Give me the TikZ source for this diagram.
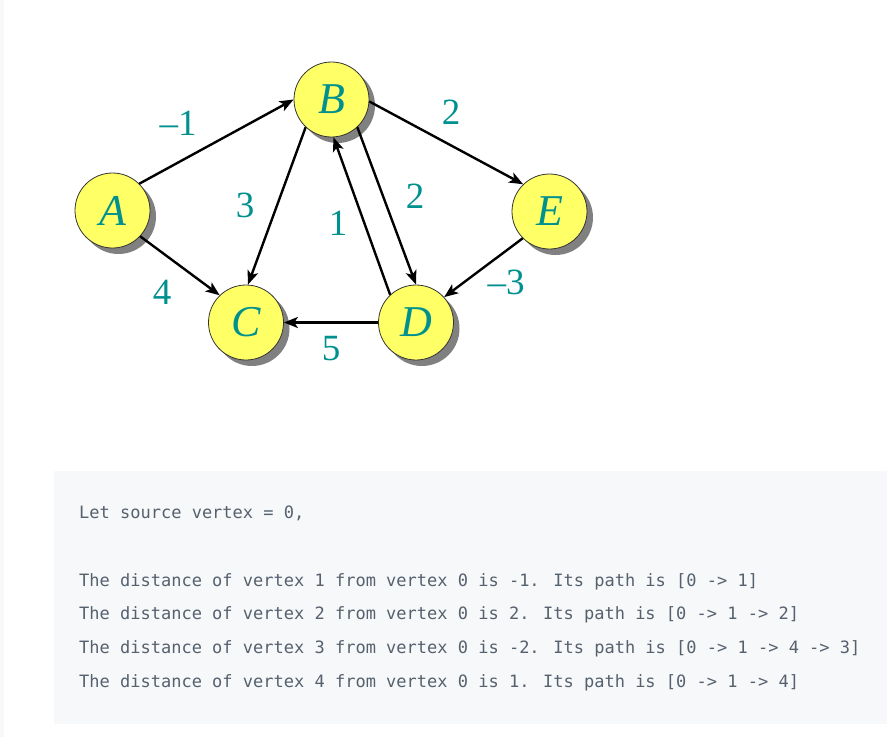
\documentclass[tikz,border=0pt]{standalone}
\usepackage{fontspec}
\setmainfont{Liberation Serif}
\newfontfamily\codefont{DejaVu Sans Mono}
\usetikzlibrary{arrows.meta,shadows}
\definecolor{teallbl}{HTML}{00918F}
\definecolor{nodefill}{HTML}{FFFF66}
\definecolor{codebg}{HTML}{F6F8FA}
\definecolor{codetext}{HTML}{56616E}
\tikzset{
  vtx/.style={circle, draw=black!80, line width=0.8pt, fill=nodefill,
    minimum size=75pt, inner sep=0pt, text=teallbl,
    font=\fontsize{44}{44}\selectfont\itshape,
    drop shadow={shadow xshift=6pt, shadow yshift=-6pt, fill=black!50, opacity=1}},
  wlbl/.style={text=teallbl, font=\fontsize{37}{37}\selectfont, inner sep=0pt},
  edge/.style={line width=2.4pt, -{Stealth[length=14pt,width=11pt,inset=3.5pt]}},
  codeline/.style={anchor=base west, inner sep=0pt, text=codetext,
    font=\codefont\fontsize{17}{17}\selectfont}
}
\begin{document}
\begin{tikzpicture}[x=1pt,y=-1pt]
\useasboundingbox (0,0) rectangle (887,737);
\fill[white] (0,0) rectangle (887,737);
\fill[codebg] (0,0) rectangle (4,737);
\fill[codebg] (54,471) rectangle (887,724);

\node[vtx] (A) at (112.5,210.5) {A};
\node[vtx] (B) at (331.5,99.5) {B};
\node[vtx] (C) at (246,322.5) {C};
\node[vtx] (D) at (416,322.5) {D};
\node[vtx] (E) at (549.5,211.5) {E};

\draw[edge] (A.45) -- (B.180);
\draw[edge] (A.-43) -- (C.134);
\draw[edge] (B.227) -- (C.87);
\draw[edge] (D.133) -- (B.-87);
\draw[edge] (B.-47) -- (D.90);
\draw[edge] (B.-3) -- (E.134);
\draw[edge] (E.225) -- (D.42);
\draw[edge] (D.west) -- (C.east);

\node[wlbl] (wab) at (178,123) {\char"2013 1};
\node[wlbl] (wbc) at (245,205) {3};
\node[wlbl] (wdb) at (338,223) {1};
\node[wlbl] (wac) at (162,292) {4};
\node[wlbl] (wdc) at (331,349) {5};
\node[wlbl] (wbe) at (451,112) {2};
\node[wlbl] (wbd) at (415,196) {2};
\node[wlbl] (wed) at (506,282) {\char"2013 3};

\node[codeline] (l0) at (79,518) {Let source vertex = 0,};
\node[codeline] (l1) at (79,586) {The distance of vertex 1 from vertex 0 is -1. Its path is [0 -> 1]};
\node[codeline] (l2) at (79,619) {The distance of vertex 2 from vertex 0 is 2. Its path is [0 -> 1 -> 2]};
\node[codeline] (l3) at (79,653) {The distance of vertex 3 from vertex 0 is -2. Its path is [0 -> 1 -> 4 -> 3]};
\node[codeline] (l4) at (79,687) {The distance of vertex 4 from vertex 0 is 1. Its path is [0 -> 1 -> 4]};
\end{tikzpicture}
\end{document}
